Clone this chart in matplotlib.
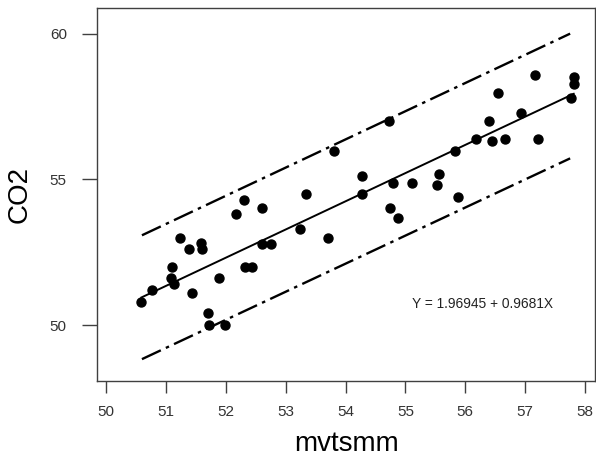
import numpy as np
import matplotlib
matplotlib.use('Agg')
import matplotlib.pyplot as plt

plt.rcParams['font.family'] = ['Liberation Sans', 'DejaVu Sans']
plt.rcParams['lines.scale_dashes'] = False

# observed points
mvtsmm = [50.59, 50.76, 51.10, 51.08, 51.13, 51.24, 51.39, 51.43, 51.59, 51.61,
          51.70, 51.72, 51.88, 51.98, 52.17, 52.31, 52.32, 52.44, 52.61, 52.61,
          52.75, 53.24, 53.34, 53.70, 53.81, 54.28, 54.28, 54.72, 54.75, 54.79,
          54.88, 55.11, 55.52, 55.56, 55.87, 55.82, 56.18, 56.40, 56.44, 56.55,
          56.66, 56.93, 57.17, 57.21, 57.76, 57.81, 57.81]
co2 = [50.80, 51.20, 52.00, 51.62, 51.41, 53.00, 52.60, 51.11, 52.80, 52.60,
       50.40, 50.00, 51.60, 50.00, 53.80, 54.29, 52.00, 52.00, 54.00, 52.78,
       52.78, 53.31, 54.49, 53.00, 55.98, 55.11, 54.49, 57.00, 54.00, 54.88,
       53.69, 54.88, 54.79, 55.18, 54.40, 55.98, 56.38, 57.00, 56.30, 57.97,
       56.38, 57.28, 58.58, 56.38, 57.78, 58.51, 58.26]

# fitted line and band endpoints
intercept = 1.96945
slope = 0.9681
band_x = [50.6, 57.75]
band_upper = [53.08, 60.0]
band_lower = [48.83, 55.72]

fig = plt.figure(figsize=(5.96, 4.57), dpi=100)
ax = fig.add_axes([0.1628, 0.1663, 0.836, 0.8162])

fit_x = np.array([min(mvtsmm), max(mvtsmm)])
ax.plot(fit_x, intercept + slope * fit_x, color='black', lw=1.4)
dash = (15, 4, 2.5, 4)
ax.plot(band_x, band_upper, color='black', lw=1.7, dashes=dash)
ax.plot(band_x, band_lower, color='black', lw=1.7, dashes=dash)
ax.scatter(mvtsmm, co2, s=42, color='black', zorder=3)

ax.text(55.11, 50.72, 'Y = 1.96945 + 0.9681X', fontsize=9.9, color='#222222',
        ha='left', va='center')

ax.set_xlim(49.85, 58.17)
ax.set_ylim(48.08, 60.88)
ax.set_xticks(range(50, 59))
ax.set_yticks([50, 55, 60])

for s in ax.spines.values():
    s.set_color('#404040')
    s.set_linewidth(1.0)

ax.tick_params(axis='x', length=8.6, width=1.0, color='#404040', pad=9,
               labelsize=11, labelcolor='#333333')
ax.tick_params(axis='y', length=10.8, width=1.0, color='#404040', pad=11,
               labelsize=11, labelcolor='#333333')

ax.set_xlabel('mvtsmm', fontsize=20, labelpad=8)
ax.set_ylabel('CO2', fontsize=20, labelpad=12)

fig.savefig('out.png', dpi=100)
